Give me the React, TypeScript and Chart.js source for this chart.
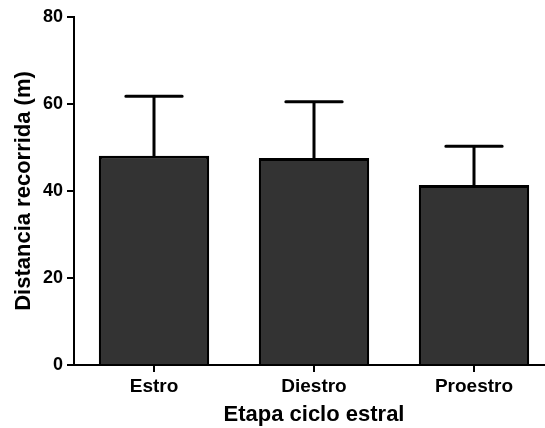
import React, { useEffect, useRef } from "react";
import { Chart, registerables } from "chart.js";

Chart.register(...registerables);

const categories = ["Estro", "Diestro", "Proestro"];
const means = [48.1, 47.6, 41.4];
const errors = [13.7, 12.9, 8.9];
const yTicks = [0, 20, 40, 60, 80];
const xTitle = "Etapa ciclo estral";
const yTitle = "Distancia recorrida (m)";

const FONT = "'Liberation Sans', Arial, Helvetica, sans-serif";

const errorBarPlugin = {
  id: "errorBars",
  afterDatasetsDraw(chart: any) {
    const ctx = chart.ctx;
    const meta = chart.getDatasetMeta(0);
    const yScale = chart.scales.y;
    ctx.save();
    ctx.strokeStyle = "#000";
    ctx.lineWidth = 3;
    ctx.lineCap = "round";
    meta.data.forEach((bar: any, i: number) => {
      const x = bar.x;
      const yTop = yScale.getPixelForValue(means[i] + errors[i]);
      const yBase = bar.y;
      const half = bar.width * 0.255;
      ctx.beginPath();
      ctx.moveTo(x, yBase);
      ctx.lineTo(x, yTop);
      ctx.moveTo(x - half, yTop);
      ctx.lineTo(x + half, yTop);
      ctx.stroke();
    });
    ctx.restore();
  },
};

export default function App() {
  const ref = useRef<HTMLCanvasElement>(null);
  useEffect(() => {
    if (!ref.current) return;
    const chart = new Chart(ref.current, {
      type: "bar",
      data: {
        labels: categories,
        datasets: [
          {
            data: means,
            backgroundColor: "#333333",
            borderColor: "#000000",
            borderWidth: 3,
            barPercentage: 0.69,
            categoryPercentage: 1,
          },
        ],
      },
      options: {
        responsive: false,
        animation: false,
        devicePixelRatio: 1,
        layout: { padding: { top: 17, right: 6, bottom: 0, left: 0 } },
        plugins: {
          legend: { display: false },
          tooltip: { enabled: false },
        },
        scales: {
          x: {
            offset: true,
            grid: {
              display: true,
              drawOnChartArea: false,
              drawTicks: true,
              tickLength: 7,
              offset: false,
              color: "#000",
              lineWidth: 2,
            },
            border: { display: true, color: "#000", width: 2 },
            ticks: {
              color: "#000",
              padding: 3,
              font: { family: FONT, size: 19, weight: "bold" },
            },
            title: {
              display: true,
              text: xTitle,
              color: "#000",
              padding: { top: 0, bottom: 0 },
              font: { family: FONT, size: 22, weight: "bold" },
            },
            afterFit: (scale: any) => {
              scale.height = 63;
            },
          },
          y: {
            min: 0,
            max: 80,
            grid: {
              display: true,
              drawOnChartArea: false,
              drawTicks: true,
              tickLength: 7,
              color: "#000",
              lineWidth: 2,
            },
            border: { display: true, color: "#000", width: 2 },
            afterBuildTicks: (scale: any) => {
              scale.ticks = yTicks.map((v) => ({ value: v }));
            },
            ticks: {
              color: "#000",
              padding: 4,
              font: { family: FONT, size: 18, weight: "bold" },
            },
            title: {
              display: true,
              text: yTitle,
              color: "#000",
              padding: { top: 11, bottom: 0 },
              font: { family: FONT, size: 22, weight: "bold" },
            },
            afterFit: (scale: any) => {
              scale.width = 74;
            },
          },
        },
      },
      plugins: [errorBarPlugin],
    });
    return () => chart.destroy();
  }, []);

  return (
    <div
      style={{
        position: "absolute",
        left: 0,
        top: 0,
        width: 545,
        height: 428,
        overflow: "hidden",
        background: "#fff",
      }}
    >
      <canvas ref={ref} width={560} height={428} style={{ display: "block" }} />
    </div>
  );
}
